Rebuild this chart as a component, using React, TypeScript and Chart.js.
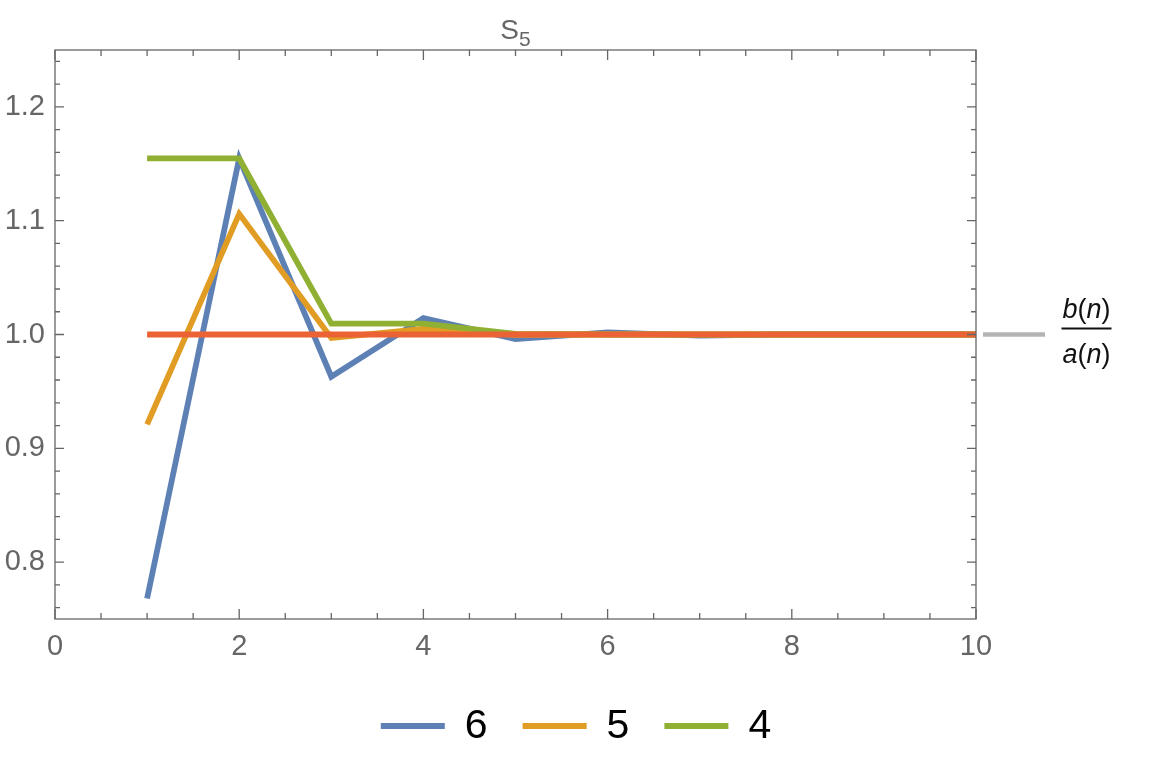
import React, { useEffect, useRef } from "react";
import { Chart, registerables } from "chart.js";

Chart.register(...registerables);

// ---- data ----
const xValues = [1, 2, 3, 4, 5, 6, 7, 8, 9, 10];
const series6 = [0.768, 1.1547, 0.963, 1.0145, 0.996, 1.0018, 0.999, 1.0002, 1.0, 1.0];
const series5 = [0.921, 1.106, 0.997, 1.005, 0.9998, 1.0, 1.0, 1.0, 1.0, 1.0];
const series4 = [1.1547, 1.1547, 1.0095, 1.0095, 1.0005, 1.0, 1.0, 1.0, 1.0, 1.0];
const ratioLine = [1, 1, 1, 1, 1, 1, 1, 1, 1, 1];
const seriesLabels = ["6", "5", "4"];
const xTicks = [0, 2, 4, 6, 8, 10];
const yTicks = [0.8, 0.9, 1.0, 1.1, 1.2];
const xMinorStep = 0.5;
const yMinorStep = 0.02;

const COLORS = ["#5E81B5", "#E19C24", "#8FB032", "#EB6235"];
const FRAME = "#666666";
const FONT = "'Liberation Sans', Arial, Helvetica, sans-serif";

const decorPlugin = {
  id: "decor",
  afterDraw(chart: any) {
    const { ctx, chartArea: a, scales } = chart;
    const xs = scales.x;
    const ys = scales.y;
    ctx.save();
    // frame
    ctx.strokeStyle = FRAME;
    ctx.lineWidth = 1.3;
    ctx.strokeRect(a.left, a.top, a.right - a.left, a.bottom - a.top);
    // x ticks (bottom & top), inward
    ctx.beginPath();
    const xmin = xs.min, xmax = xs.max;
    for (let k = 0; xmin + k * xMinorStep <= xmax + 1e-9; k++) {
      const v = xmin + k * xMinorStep;
      const major = xTicks.some((t) => Math.abs(t - v) < 1e-9);
      const len = major ? 10 : 6;
      const px = xs.getPixelForValue(v);
      ctx.moveTo(px, a.bottom);
      ctx.lineTo(px, a.bottom - len);
      ctx.moveTo(px, a.top);
      ctx.lineTo(px, a.top + len);
    }
    const ymin = ys.min, ymax = ys.max;
    const startK = Math.ceil(ymin / yMinorStep - 1e-9);
    for (let k = startK; k * yMinorStep <= ymax + 1e-9; k++) {
      const v = k * yMinorStep;
      const major = yTicks.some((t) => Math.abs(t - v) < 1e-9);
      const len = major ? 9 : 5;
      const py = ys.getPixelForValue(v);
      ctx.moveTo(a.left, py);
      ctx.lineTo(a.left + len, py);
      ctx.moveTo(a.right, py);
      ctx.lineTo(a.right - len, py);
    }
    ctx.stroke();

    // title S_5
    ctx.fillStyle = FRAME;
    ctx.textBaseline = "alphabetic";
    ctx.font = `28px ${FONT}`;
    const wS = ctx.measureText("S").width;
    ctx.font = `21px ${FONT}`;
    const w5 = ctx.measureText("5").width;
    const cx = (a.left + a.right) / 2;
    const tx = cx - (wS + w5) / 2;
    ctx.font = `28px ${FONT}`;
    ctx.fillText("S", tx, 38.5);
    ctx.font = `21px ${FONT}`;
    ctx.fillText("5", tx + wS, 46);

    // callout line for ratio
    const yr = ys.getPixelForValue(ratioLine[ratioLine.length - 1]);
    ctx.strokeStyle = "#b4b4b4";
    ctx.lineWidth = 4.5;
    ctx.beginPath();
    ctx.moveTo(a.right + 7, yr);
    ctx.lineTo(a.right + 69, yr);
    ctx.stroke();

    // fraction b(n)/a(n)
    const drawParts = (parts: [string, boolean][], centerX: number, baseY: number) => {
      let total = 0;
      const ws: number[] = [];
      for (const [t, it] of parts) {
        ctx.font = `${it ? "italic " : ""}27px ${FONT}`;
        const w = ctx.measureText(t).width;
        ws.push(w);
        total += w;
      }
      let x = centerX - total / 2;
      parts.forEach(([t, it], i) => {
        ctx.font = `${it ? "italic " : ""}27px ${FONT}`;
        ctx.fillText(t, x, baseY);
        x += ws[i];
      });
      return total;
    };
    ctx.fillStyle = "#111111";
    const fcx = 1086.5;
    const wNum = drawParts([["b", true], ["(", false], ["n", true], [")", false]], fcx, 317.5);
    drawParts([["a", true], ["(", false], ["n", true], [")", false]], fcx, 362.5);
    ctx.fillRect(fcx - wNum / 2 - 1, yr - 7, wNum + 2, 2);

    // legend
    const lineW = 64;
    const gapText = 20;
    const gapItem = 35;
    ctx.font = `41px ${FONT}`;
    const items = chart.data.datasets.slice(0, seriesLabels.length);
    const tws = items.map((d: any) => ctx.measureText(d.label).width);
    let total = 0;
    tws.forEach((w: number, i: number) => {
      total += lineW + gapText + w + (i < tws.length - 1 ? gapItem : 0);
    });
    let lx = chart.width / 2 - total / 2;
    const ly = 726;
    items.forEach((d: any, i: number) => {
      ctx.fillStyle = d.borderColor;
      ctx.fillRect(lx, ly - 3, lineW, 6);
      ctx.fillStyle = "#000000";
      ctx.fillText(d.label, lx + lineW + gapText, 737.5);
      lx += lineW + gapText + tws[i] + gapItem;
    });
    ctx.restore();
  },
};

const toPts = (ys: number[]) => xValues.map((x, i) => ({ x, y: ys[i] }));

export default function App() {
  const ref = useRef<HTMLCanvasElement | null>(null);
  useEffect(() => {
    if (!ref.current) return;
    const mk = (label: string, data: number[], color: string, order: number) => ({
      label,
      data: toPts(data),
      borderColor: color,
      backgroundColor: color,
      borderWidth: 5.8,
      pointRadius: 0,
      tension: 0,
      fill: false,
      order,
      borderJoinStyle: "miter" as const,
    });
    const chart = new Chart(ref.current, {
      type: "line",
      data: {
        datasets: [
          mk(seriesLabels[0], series6, COLORS[0], 4),
          mk(seriesLabels[1], series5, COLORS[1], 3),
          mk(seriesLabels[2], series4, COLORS[2], 2),
          mk("b(n)/a(n)", ratioLine, COLORS[3], 1),
        ],
      },
      options: {
        animation: false,
        responsive: false,
        devicePixelRatio: 1,
        layout: { padding: { left: 0, top: 50, right: 176, bottom: 0 } },
        plugins: {
          legend: { display: false },
          title: { display: false },
          tooltip: { enabled: false },
        },
        scales: {
          x: {
            type: "linear",
            min: 0,
            max: 10,
            grid: { display: false, drawTicks: false },
            border: { display: false },
            afterBuildTicks: (s: any) => {
              s.ticks = xTicks.map((value) => ({ value }));
            },
            afterFit: (s: any) => {
              s.height = 147;
            },
            ticks: {
              color: FRAME,
              font: { family: FONT, size: 29 },
              padding: 11,
              maxRotation: 0,
              autoSkip: false,
              callback: (v: any) => String(v),
            },
          },
          y: {
            type: "linear",
            min: 0.75,
            max: 1.25,
            grid: { display: false, drawTicks: false },
            border: { display: false },
            afterBuildTicks: (s: any) => {
              s.ticks = yTicks.map((value) => ({ value }));
            },
            afterFit: (s: any) => {
              s.width = 55;
            },
            ticks: {
              color: FRAME,
              font: { family: FONT, size: 29 },
              padding: 10,
              autoSkip: false,
              callback: (v: any) => Number(v).toFixed(1),
            },
          },
        },
      },
      plugins: [decorPlugin],
    });
    return () => chart.destroy();
  }, []);
  return (
    <div style={{ position: "absolute", left: 0, top: 0, width: 1152, height: 766, background: "#fff" }}>
      <canvas ref={ref} width={1152} height={766} style={{ width: 1152, height: 766, display: "block" }} />
    </div>
  );
}
